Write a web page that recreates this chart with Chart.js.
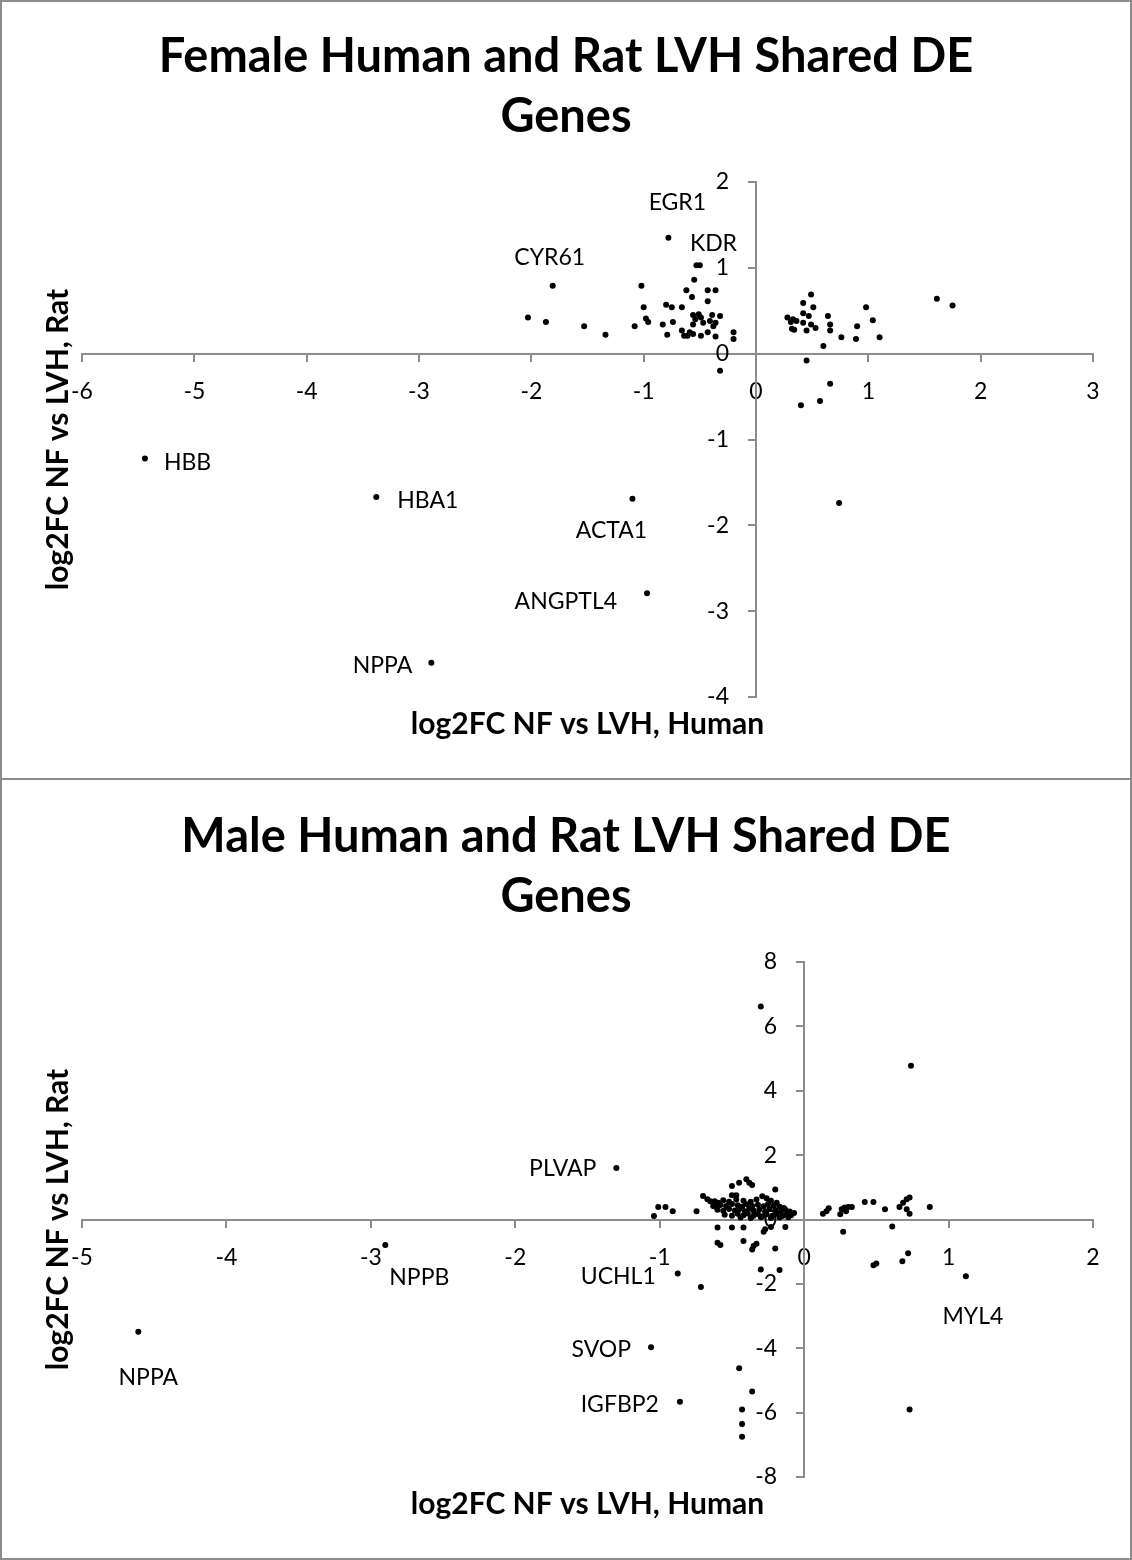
<!DOCTYPE html>
<html>
<head>
<meta charset="utf-8">
<title>Human and Rat LVH Shared DE Genes</title>
<script src="https://cdn.jsdelivr.net/npm/chart.js@4.4.1/dist/chart.umd.min.js"></script>
<style>
  body { margin: 0; background: #fff; }
  .panel { position: absolute; left: 0; width: 1132px; height: 780px; }
  .panel canvas { position: absolute; left: 0; top: 0; }
  .frame { position: absolute; left: 0; top: 0; right: 0; bottom: 0; border: 2px solid #8c8c8c; pointer-events: none; }
  .frame.lower { border-top: none; }
</style>
</head>
<body>
<div class="panel" style="top:0">
  <canvas id="femaleChart" width="1132" height="780"></canvas>
  <div class="frame"></div>
</div>
<div class="panel" style="top:780px">
  <canvas id="maleChart" width="1132" height="780"></canvas>
  <div class="frame lower"></div>
</div>
<script>
// Female: log2FC NF vs LVH (human on x, rat on y)
const femaleHuman = [
  -2.03, -1.87, -1.53, -1.34, -1.08, -1.02, -1.00, -0.98, -0.96, -0.83,
  -0.79, -0.80, -0.75, -0.74, -0.66, -0.66, -0.64, -0.62, -0.57, -0.55,
  -0.50, -0.43, -0.36, -0.43, -0.56, -0.51, -0.54, -0.49, -0.39, -0.32,
  -0.41, -0.36, -0.47, -0.59, -0.56, -0.61, -0.49, -0.43, -0.36, -0.20,
  -0.20, -0.32, -0.56, -0.38,
  0.28, 0.33, 0.31, 0.42, 0.47, 0.36, 0.42, 0.49, 0.53, 0.32,
  0.34, 0.45, 0.64, 0.66, 0.66, 0.76, 0.60, 0.89, 0.90, 0.98,
  1.04, 1.10, 0.45, 0.66, 0.40, 0.57, 0.74, 1.61, 1.75, 0.49,
  0.42, 0.51
];
const femaleRat = [
  0.42, 0.37, 0.32, 0.22, 0.32, 0.79, 0.54, 0.41, 0.37, 0.34,
  0.22, 0.57, 0.54, 0.37, 0.54, 0.27, 0.21, 0.74, 0.66, 0.86,
  1.03, 0.74, 0.74, 0.61, 0.45, 0.46, 0.40, 0.42, 0.45, 0.44,
  0.38, 0.36, 0.36, 0.25, 0.23, 0.21, 0.21, 0.25, 0.20, 0.25,
  0.17, -0.20, 0.34, 0.32,
  0.42, 0.40, 0.37, 0.47, 0.44, 0.38, 0.36, 0.34, 0.30, 0.29,
  0.28, 0.27, 0.44, 0.34, 0.27, 0.19, 0.09, 0.17, 0.32, 0.54,
  0.39, 0.19, -0.08, -0.35, -0.60, -0.55, -1.74, 0.64, 0.56, 0.69,
  0.59, 0.54
];
const femaleNamed = ['EGR1', 'KDR', 'CYR61', 'HBB', 'HBA1', 'ACTA1', 'ANGPTL4', 'NPPA'];
const femaleNamedHuman = [-0.78, -0.53, -1.81, -5.44, -3.38, -1.10, -0.97, -2.89];
const femaleNamedRat = [1.35, 1.03, 0.79, -1.22, -1.67, -1.69, -2.79, -3.60];

// Male
const maleHuman = [
  -0.30, 0.74, -0.45, -0.36, -0.43, -0.43, -0.43, 0.73, -0.715,
  0.68, 0.72, 0.48, 0.50, 0.61, 0.27, -0.30, -0.17, -0.20,
  -0.60, -0.50, -0.42, -0.60, -0.58, -0.42, -0.36, -0.35, -0.33, -0.28, -0.27, -0.23, -0.13,
  0.13, 0.17, 0.155, 0.25, 0.26, 0.28, 0.305, 0.33, 0.29, 0.42,
  0.48, 0.56, 0.66, 0.685, 0.71, 0.73, 0.71, 0.73, 0.87,
  -1.04, -1.01, -0.96, -0.91, -0.745, -0.70, -0.67, -0.65, -0.62, -0.63,
  -0.595, -0.61, -0.50, -0.45, -0.40, -0.36, -0.50, -0.47, -0.38, -0.20,
  -0.56, -0.52, -0.47, -0.42, -0.37, -0.33, -0.29, -0.26, -0.23, -0.19,
  -0.58, -0.54, -0.50, -0.46, -0.43, -0.40, -0.36, -0.32, -0.28, -0.25,
  -0.21, -0.17, -0.14,
  -0.60, -0.56, -0.52, -0.48, -0.45, -0.41, -0.38, -0.35, -0.31, -0.27,
  -0.24, -0.20, -0.16, -0.13, -0.10,
  -0.55, -0.50, -0.46, -0.42, -0.39, -0.35, -0.32, -0.29, -0.26, -0.22,
  -0.19, -0.15, -0.12, -0.09, -0.07,
  -0.44, -0.37, -0.30, -0.23, -0.17, -0.11
];
const maleRat = [
  6.62, 4.78, -4.62, -5.34, -5.90, -6.35, -6.75, -5.90, -2.10,
  -1.30, -1.05, -1.42, -1.37, -0.22, -0.38, -1.55, -1.57, -0.90,
  -0.25, -0.25, -0.25, -0.72, -0.79, -0.67, -0.93, -0.82, -0.75, -0.38, -0.30, -0.23, -0.23,
  0.18, 0.35, 0.26, 0.16, 0.32, 0.37, 0.39, 0.39, 0.26, 0.54,
  0.54, 0.32, 0.39, 0.52, 0.63, 0.68, 0.32, 0.18, 0.39,
  0.11, 0.39, 0.39, 0.26, 0.26, 0.73, 0.63, 0.57, 0.57, 0.42,
  0.52, 0.39, 1.04, 1.14, 1.25, 1.07, 0.75, 0.75, 1.14, 0.93,
  0.60, 0.55, 0.62, 0.58, 0.55, 0.62, 0.72, 0.66, 0.58, 0.52,
  0.45, 0.42, 0.48, 0.44, 0.40, 0.47, 0.42, 0.46, 0.41, 0.48,
  0.43, 0.40, 0.36,
  0.30, 0.27, 0.33, 0.28, 0.32, 0.26, 0.34, 0.28, 0.31, 0.25,
  0.33, 0.29, 0.26, 0.30, 0.25,
  0.15, 0.12, 0.18, 0.13, 0.19, 0.12, 0.17, 0.10, 0.16, 0.12,
  0.18, 0.11, 0.16, 0.13, 0.20,
  0.06, 0.05, 0.07, 0.05, 0.06, 0.07
];
const maleNamed = ['PLVAP', 'NPPB', 'NPPA', 'UCHL1', 'SVOP', 'IGFBP2', 'MYL4'];
const maleNamedHuman = [-1.30, -2.90, -4.61, -0.875, -1.06, -0.86, 1.12];
const maleNamedRat = [1.60, -0.79, -3.49, -1.68, -3.97, -5.66, -1.76];

const FONT = "Lato, 'Open Sans', sans-serif";
const AXIS_GREY = '#8c8c8c';

// where each gene name sits next to its point (pixels)
const labelPlacement = {
  EGR1: { dx: 9, dy: -35, align: 'center' },
  KDR: { dx: 17, dy: -22, align: 'center' },
  CYR61: { dx: -3, dy: -28, align: 'center' },
  HBB: { dx: 19, dy: 4, align: 'left' },
  HBA1: { dx: 21, dy: 4, align: 'left' },
  ACTA1: { dx: -21, dy: 32, align: 'center' },
  ANGPTL4: { dx: -30, dy: 8, align: 'right' },
  NPPA: { dx: -19, dy: 3, align: 'right' },
  PLVAP: { dx: -20, dy: 1, align: 'right' },
  NPPB: { dx: 4, dy: 33, align: 'left' },
  UCHL1: { dx: -22, dy: 3, align: 'right' },
  SVOP: { dx: -20, dy: 2, align: 'right' },
  IGFBP2: { dx: -21, dy: 3, align: 'right' },
  MYL4: { dx: 7, dy: 40, align: 'center' }
};
// NPPA in the male plot sits below its point instead
const maleOverrides = { NPPA: { dx: 10, dy: 46, align: 'center' } };

// Chart.js puts y tick labels right on an axis that crosses at x = 0,
// so they are drawn here, set off to the left of the tick marks
const crossingYTicks = {
  id: 'crossingYTicks',
  afterDraw(chart) {
    const { ctx, scales: { x, y } } = chart;
    const left = x.getPixelForValue(0) - 27;
    ctx.save();
    ctx.font = '23px ' + FONT;
    ctx.fillStyle = '#000';
    ctx.textAlign = 'right';
    ctx.textBaseline = 'middle';
    y.ticks.forEach((t) => {
      ctx.fillText(String(t.value), left, y.getPixelForValue(t.value));
    });
    ctx.restore();
  }
};

const geneLabels = {
  id: 'geneLabels',
  afterDatasetsDraw(chart, args, opts) {
    const { ctx, scales: { x, y } } = chart;
    ctx.save();
    ctx.font = '23px ' + FONT;
    ctx.fillStyle = '#000';
    ctx.textBaseline = 'middle';
    opts.names.forEach((name, i) => {
      const place = (opts.overrides && opts.overrides[name]) || labelPlacement[name];
      ctx.textAlign = place.align;
      ctx.fillText(name,
        x.getPixelForValue(opts.human[i]) + place.dx,
        y.getPixelForValue(opts.rat[i]) + place.dy);
    });
    ctx.restore();
  }
};

function toPoints(xs, ys) {
  return xs.map((v, i) => ({ x: v, y: ys[i] }));
}

// invisible axis used only to hold an axis title / reserve space
function spacer(position, size, text, pad) {
  return {
    type: 'linear',
    position: position,
    display: true,
    grid: { display: false },
    border: { display: false },
    ticks: { display: false },
    title: {
      display: !!text,
      text: text || '',
      color: '#000',
      font: { family: FONT, size: 30, weight: 'bold', lineHeight: 1.2 },
      padding: pad
    },
    afterFit: (scale) => {
      if (position === 'left' || position === 'right') scale.width = size;
      else scale.height = size;
    }
  };
}

function valueAxis(position, min, max, step, showTicks) {
  return {
    type: 'linear',
    position: position,
    min: min,
    max: max,
    ticks: {
      display: showTicks,
      stepSize: step,
      color: '#000',
      padding: 17,
      font: { family: FONT, size: 23 }
    },
    grid: { drawOnChartArea: false, color: AXIS_GREY, tickLength: 7, lineWidth: 2 },
    border: { color: AXIS_GREY, width: 2 }
  };
}

function buildChart(canvasId, cfg) {
  const points = toPoints(cfg.human, cfg.rat).concat(toPoints(cfg.namedHuman, cfg.namedRat));
  return new Chart(document.getElementById(canvasId), {
    type: 'scatter',
    data: {
      datasets: [{
        data: points,
        pointRadius: 3,
        pointBackgroundColor: '#000',
        pointBorderWidth: 0
      }]
    },
    options: {
      responsive: false,
      animation: false,
      layout: { padding: 0 },
      plugins: {
        legend: { display: false },
        tooltip: { enabled: false },
        title: {
          display: true,
          text: cfg.title,
          color: '#000',
          font: { family: FONT, size: 47, weight: 'bold', lineHeight: 60 / 47 },
          padding: { top: 27, bottom: 35 }
        },
        geneLabels: {
          names: cfg.named,
          human: cfg.namedHuman,
          rat: cfg.namedRat,
          overrides: cfg.overrides
        }
      },
      scales: {
        x: valueAxis({ y: 0 }, cfg.xMin, cfg.xMax, 1, true),
        y: valueAxis({ x: 0 }, cfg.yMin, cfg.yMax, cfg.yStep, false),
        yTitle: spacer('left', 82, 'log2FC NF vs LVH, Rat', { top: 40 }),
        xTitle: spacer('bottom', 83, 'log2FC NF vs LVH, Human', { bottom: 38 }),
        rightPad: spacer('right', 39, '', 0)
      }
    },
    plugins: [geneLabels, crossingYTicks]
  });
}

buildChart('femaleChart', {
  title: ['Female Human and Rat LVH Shared DE', 'Genes'],
  human: femaleHuman, rat: femaleRat,
  named: femaleNamed, namedHuman: femaleNamedHuman, namedRat: femaleNamedRat,
  xMin: -6, xMax: 3, yMin: -4, yMax: 2, yStep: 1
});

buildChart('maleChart', {
  title: ['Male Human and Rat LVH Shared DE', 'Genes'],
  human: maleHuman, rat: maleRat,
  named: maleNamed, namedHuman: maleNamedHuman, namedRat: maleNamedRat,
  overrides: maleOverrides,
  xMin: -5, xMax: 2, yMin: -8, yMax: 8, yStep: 2
});
</script>
</body>
</html>
